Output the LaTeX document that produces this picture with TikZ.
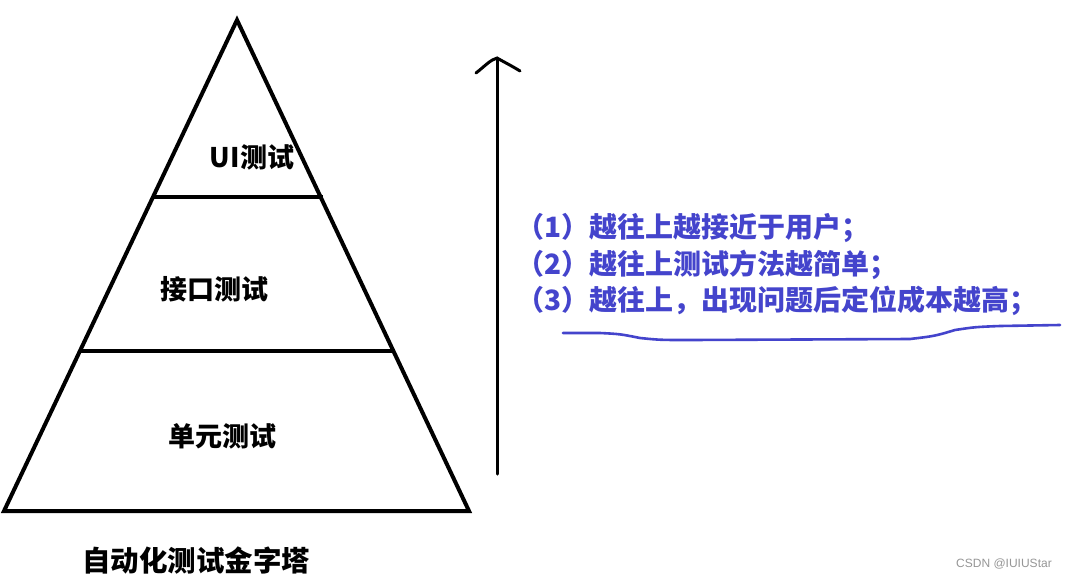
\documentclass[tikz,border=0pt]{standalone}
\usepackage{fontspec}
\setmainfont{Noto Sans CJK SC}
\newfontfamily\wmfont{Liberation Sans}
\definecolor{penblue}{RGB}{68,68,204}
\definecolor{wmgray}{RGB}{150,150,150}
\begin{document}
\begin{tikzpicture}[x=1pt,y=-1pt,
  edge/.style={line width=4pt,line join=miter,black},
  lab/.style={font=\fontsize{27}{31}\selectfont\bfseries,inner sep=0pt},
  note/.style={font=\fontsize{28}{31}\selectfont\bfseries,text=penblue,anchor=west,inner sep=0pt},
  pen/.style={line width=3pt,line cap=round,line join=round}]
\useasboundingbox[fill=white] (0,0) rectangle (1071,579);
% pyramid
\coordinate (apex) at (237,20);
\coordinate (bl) at (4,511);
\coordinate (br) at (469,511);
\draw[edge] (apex) -- (bl) -- (br) -- cycle;
\coordinate (l1a) at (153,197);
\coordinate (l1b) at (323,197);
\coordinate (l2a) at (80,351);
\coordinate (l2b) at (395,351);
\draw[edge] (l1a) -- (l1b);
\draw[edge] (l2a) -- (l2b);
\node[lab] (ui) at (252,157) {UI测试};
\node[lab] (jk) at (214,289) {接口测试};
\node[lab] (dy) at (222,436) {单元测试};
\node[lab,font=\fontsize{28.5}{32}\selectfont\bfseries] (title) at (196,561) {自动化测试金字塔};
% arrow
\coordinate (abot) at (497,474);
\coordinate (atop) at (497,58);
\draw[pen,black] (abot) -- (atop);
\coordinate (hl) at (476,73);
\coordinate (hr) at (520,71);
\draw[pen,black] (hl) .. controls (485,66) and (490,60) .. (atop) .. controls (504,62) and (512,66) .. (hr);
% notes
\node[note] (n1) at (516,228) {（1）越往上越接近于用户；};
\node[note] (n2) at (516,265) {（2）越往上测试方法越简单；};
\node[note] (n3) at (516,301) {（3）越往上，出现问题后定位成本越高；};
\coordinate (u0) at (563,333);
\coordinate (u1) at (600,333);
\coordinate (u2) at (640,338);
\coordinate (u3) at (690,340);
\coordinate (u4) at (910,339);
\coordinate (u5) at (955,330);
\coordinate (u6) at (1000,326);
\coordinate (u7) at (1060,325);
\draw[pen,penblue,line width=2.6pt] (u0) -- (u1) .. controls (620,334) .. (u2) .. controls (660,340) .. (u3) -- (u4) .. controls (935,336) .. (u5) .. controls (975,327) .. (u6) -- (u7);
\node[font=\wmfont\fontsize{12}{14}\selectfont,text=wmgray,inner sep=0pt] (wm) at (1004,564) {CSDN @IUIUStar};
\end{tikzpicture}
\end{document}
